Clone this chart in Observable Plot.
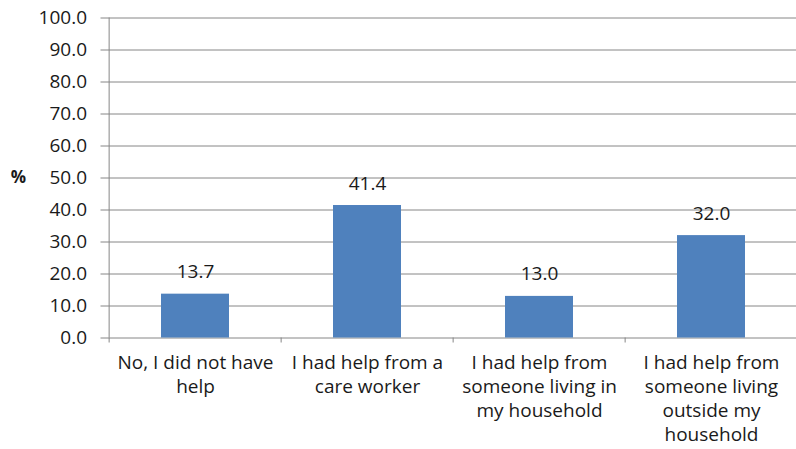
<!DOCTYPE html>
<html>
<head>
<meta charset="utf-8">
<script src="https://cdn.jsdelivr.net/npm/d3@7"></script>
<script src="https://cdn.jsdelivr.net/npm/@observablehq/plot@0.6"></script>
<style>
  html, body { margin: 0; padding: 0; background: #fff; }
  #chart svg { display: block; }
</style>
</head>
<body>
<div id="chart"></div>
<script>
const categories = [
  "No, I did not have help",
  "I had help from a care worker",
  "I had help from someone living in my household",
  "I had help from someone living outside my household"
];
const values = [13.7, 41.4, 13.0, 32.0];
const tickLabels = [
  "No, I did not have\nhelp",
  "I had help from a\ncare worker",
  "I had help from\nsomeone living in\nmy household",
  "I had help from\nsomeone living\noutside my\nhousehold"
];
const yTicks = [0, 10, 20, 30, 40, 50, 60, 70, 80, 90, 100];
const yLabel = "%";

const data = categories.map((c, i) => ({category: c, value: values[i]}));

const W = 796, H = 449;
const xRange = [107.5, 798.5];
const step = (xRange[1] - xRange[0]) / categories.length;
const grey = "#868686";
const font = "'Open Sans', sans-serif";

const chart = Plot.plot({
  width: W,
  height: H,
  marginLeft: 107.5,
  marginRight: 0,
  marginTop: 17.5,
  marginBottom: 111.5,
  style: {fontFamily: font, fontSize: "19px", color: "#1a1a1a", background: "#fff"},
  x: {domain: categories, range: xRange, paddingInner: 0.606, paddingOuter: 0.303},
  y: {domain: [0, 100]},
  marks: [
    Plot.ruleY(yTicks, {stroke: grey, strokeWidth: 1, insetLeft: -7}),
    Plot.ruleX([categories[0]], {dx: -step / 2, y1: 0, y2: 100, stroke: grey}),
    Plot.ruleX(categories, {x: d => d, dx: -step / 2, y1: 0, y2: 0, insetBottom: -5, stroke: grey}),
    Plot.barY(data, {x: "category", y: "value", fill: "#4F81BD"}),
    Plot.text(data, {x: "category", y: "value", text: d => d.value.toFixed(1), dy: -22, fill: "#1a1a1a", fontSize: 19}),
    Plot.axisY({ticks: yTicks, tickSize: 0, tickPadding: 21, tickFormat: d => d.toFixed(1), label: null, fontSize: 19, fill: "#1a1a1a"}),
    Plot.axisX({tickSize: 0, tickPadding: 14, tickFormat: d => tickLabels[categories.indexOf(d)], label: null, fontSize: 19, lineHeight: 24 / 19, fill: "#1a1a1a"}),
    Plot.text([yLabel], {text: d => d, frameAnchor: "left", dx: -89.5, textAnchor: "middle", fontWeight: "bold", fontSize: 17, fill: "#1a1a1a"})
  ]
});
document.getElementById("chart").appendChild(chart);
</script>
</body>
</html>
